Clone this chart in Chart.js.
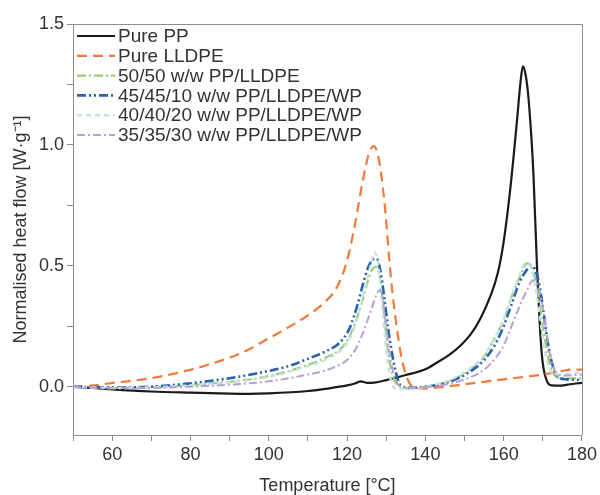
<!DOCTYPE html>
<html>
<head>
<meta charset="utf-8">
<script src="https://cdn.jsdelivr.net/npm/chart.js@4/dist/chart.umd.min.js"></script>
<style>
  body { margin: 0; background: #fff; }
  canvas { display: block; }
</style>
</head>
<body>
<canvas id="dsc" width="600" height="495"></canvas>
<script>
// values
const seriesLabels = [
  'Pure PP',
  'Pure LLDPE',
  '50/50 w/w PP/LLDPE',
  '45/45/10 w/w PP/LLDPE/WP',
  '40/40/20 w/w PP/LLDPE/WP',
  '35/35/30 w/w PP/LLDPE/WP',
]

const ppTemp = [50, 55, 60, 70, 80, 90, 95, 100, 110, 115, 120, 122, 123.5, 125, 127, 130, 135, 140, 143, 146, 149, 151.5, 154, 156.5, 158.5, 160, 161.7, 163.4, 164.3, 164.9, 165.6, 166.3, 167.6, 168.5, 169.7, 171, 172.3, 174, 177, 180]
const ppFlow = [0, -0.005, -0.011, -0.02, -0.025, -0.029, -0.03, -0.028, -0.018, -0.008, 0.005, 0.013, 0.022, 0.016, 0.017, 0.027, 0.048, 0.072, 0.1, 0.13, 0.17, 0.215, 0.28, 0.37, 0.47, 0.6, 0.82, 1.1, 1.26, 1.325, 1.29, 1.2, 0.88, 0.5, 0.14, 0.025, 0.005, 0.004, 0.01, 0.016]

const pe100Temp = [50, 55, 60, 70, 80, 90, 95, 100, 105, 110, 114, 117, 119, 120.6, 122, 124, 125.5, 126.8, 128, 129.5, 131.2, 132.9, 134.2, 135.9, 137.6, 140, 145, 150, 160, 165, 170, 175, 177, 180]
const pe100Flow = [0, 0.005, 0.015, 0.035, 0.07, 0.12, 0.155, 0.2, 0.245, 0.295, 0.345, 0.4, 0.47, 0.56, 0.67, 0.85, 0.96, 0.995, 0.95, 0.77, 0.45, 0.22, 0.098, 0.016, -0.005, -0.007, 0, 0.01, 0.03, 0.04, 0.05, 0.065, 0.07, 0.07]

const blend50Temp = [50, 60, 70, 80, 90, 100, 110, 115, 118, 120, 122, 124, 126, 127.3, 128.5, 129.5, 130.5, 131.5, 132.5, 134, 137, 140, 145, 150, 155, 158, 160, 162, 164, 166, 167, 168, 169, 170, 171, 172, 173, 175, 180]
const blend50Flow = [0, -0.007, -0.004, 0.007, 0.02, 0.044, 0.09, 0.124, 0.15, 0.19, 0.26, 0.36, 0.47, 0.495, 0.44, 0.29, 0.14, 0.055, 0.014, -0.003, -0.007, 0, 0.017, 0.055, 0.124, 0.21, 0.275, 0.37, 0.45, 0.51, 0.5, 0.45, 0.36, 0.25, 0.15, 0.083, 0.048, 0.034, 0.034]

const wp10Temp = [50, 60, 70, 80, 90, 100, 105, 110, 115, 118, 120.6, 122.7, 124, 125.3, 126.5, 127.5, 128.5, 129.5, 130.5, 131.2, 132.5, 133.7, 136, 140, 145, 150, 155, 158, 160, 162, 164, 166, 167, 168, 169, 170, 171, 172, 173, 174, 176, 180]
const wp10Flow = [0, -0.003, 0, 0.014, 0.035, 0.065, 0.085, 0.115, 0.15, 0.18, 0.24, 0.34, 0.42, 0.49, 0.525, 0.53, 0.48, 0.37, 0.24, 0.165, 0.057, 0.005, -0.005, 0, 0.014, 0.048, 0.11, 0.18, 0.25, 0.34, 0.43, 0.485, 0.5, 0.485, 0.43, 0.33, 0.21, 0.12, 0.065, 0.04, 0.03, 0.028]

const wp20Temp = [50, 60, 80, 100, 110, 115, 120, 122, 124, 126, 127, 128, 129, 130, 131, 132, 133, 135, 138, 140, 145, 150, 155, 158, 160, 162, 164, 165.5, 167, 168, 169, 170, 171, 172, 174, 177, 180]
const wp20Flow = [0, -0.005, 0.005, 0.04, 0.085, 0.115, 0.18, 0.25, 0.37, 0.5, 0.555, 0.5, 0.33, 0.15, 0.04, -0.005, -0.01, -0.01, -0.008, 0, 0.02, 0.06, 0.13, 0.21, 0.28, 0.37, 0.46, 0.51, 0.49, 0.42, 0.32, 0.2, 0.11, 0.065, 0.05, 0.055, 0.06]

const wp30Temp = [50, 60, 70, 80, 90, 100, 110, 115, 118, 120, 122, 124, 126, 127.5, 128.3, 129, 130, 131, 132, 133, 134, 136, 140, 145, 150, 155, 158, 160, 162, 164, 166, 167.5, 168.5, 169.5, 170.5, 171.5, 172.5, 173.5, 175, 180]
const wp30Flow = [0, -0.005, -0.005, 0, 0.008, 0.022, 0.05, 0.07, 0.09, 0.11, 0.15, 0.22, 0.31, 0.38, 0.4, 0.37, 0.25, 0.12, 0.05, 0.01, 0, -0.005, -0.002, 0.008, 0.03, 0.07, 0.12, 0.17, 0.25, 0.33, 0.4, 0.44, 0.43, 0.37, 0.27, 0.16, 0.09, 0.055, 0.045, 0.05]

const xTicks = [50, 60, 70, 80, 90, 100, 110, 120, 130, 140, 150, 160, 170, 180]
const yTicks = [0, 0.25, 0.5, 0.75, 1.0, 1.25, 1.5]

const toPoints = (temps, flows) => temps.map((t, i) => ({ x: t, y: flows[i] }))

const styles = [
  { color: '#1a1a1a', dash: [], width: 2.2 },
  { color: '#ef7a3c', dash: [10, 6], width: 2.2 },
  { color: '#9dcb72', dash: [9, 3, 2, 3], width: 2.2 },
  { color: '#2b62ae', dash: [9, 3, 2, 3, 2, 3], width: 2.6 },
  { color: '#c4e3e6', dash: [5, 4], width: 2.4 },
  { color: '#b99fd2', dash: [8, 3, 2, 3], width: 2.0 },
]

const seriesPoints = [
  toPoints(ppTemp, ppFlow),
  toPoints(pe100Temp, pe100Flow),
  toPoints(blend50Temp, blend50Flow),
  toPoints(wp10Temp, wp10Flow),
  toPoints(wp20Temp, wp20Flow),
  toPoints(wp30Temp, wp30Flow),
]

// draw order: light curves first, black PP on top
const drawOrder = [5, 4, 3, 2, 1, 0]

const datasets = seriesLabels.map((label, i) => ({
  label: label,
  data: seriesPoints[i],
  borderColor: styles[i].color,
  borderDash: styles[i].dash,
  borderWidth: styles[i].width,
  pointRadius: 0,
  fill: false,
  cubicInterpolationMode: 'monotone',
  order: drawOrder[i],
}))

const font = "'Liberation Sans', Arial, sans-serif"

// top and right side of the frame
const framePlugin = {
  id: 'frame',
  afterDraw(chart) {
    const { ctx, chartArea } = chart
    ctx.save()
    ctx.strokeStyle = '#8c8c8c'
    ctx.lineWidth = 1
    ctx.beginPath()
    ctx.moveTo(chartArea.left, chartArea.top + 0.5)
    ctx.lineTo(chartArea.right + 0.5, chartArea.top + 0.5)
    ctx.lineTo(chartArea.right + 0.5, chartArea.bottom)
    ctx.stroke()
    ctx.restore()
  },
}

// legend sits inside the plot, top left
const insideLegend = {
  id: 'insideLegend',
  afterDraw(chart) {
    const ctx = chart.ctx
    const x0 = chart.chartArea.left + 4
    const y0 = chart.chartArea.top + 12
    ctx.save()
    ctx.font = '19px ' + font
    ctx.textBaseline = 'middle'
    chart.data.datasets.forEach((ds, i) => {
      const y = y0 + i * 19.8
      ctx.strokeStyle = ds.borderColor
      ctx.lineWidth = ds.borderWidth
      ctx.setLineDash(ds.borderDash)
      ctx.beginPath()
      ctx.moveTo(x0, y)
      ctx.lineTo(x0 + 38, y)
      ctx.stroke()
      ctx.setLineDash([])
      ctx.fillStyle = '#333'
      ctx.fillText(ds.label, x0 + 41, y + 1)
    })
    ctx.restore()
  },
}

new Chart(document.getElementById('dsc'), {
  type: 'line',
  data: { datasets: datasets },
  options: {
    responsive: false,
    animation: false,
    devicePixelRatio: 1,
    layout: { padding: { left: 0, right: 14, top: 24, bottom: 0 } },
    plugins: {
      legend: { display: false },
      tooltip: { enabled: false },
    },
    scales: {
      x: {
        type: 'linear',
        min: 50,
        max: 180,
        afterBuildTicks: (scale) => {
          scale.ticks = xTicks.map((v) => ({ value: v }))
        },
        afterFit: (scale) => {
          scale.height = 60
        },
        ticks: {
          autoSkip: false,
          maxRotation: 0,
          color: '#333',
          padding: 3,
          font: { family: font, size: 18 },
          callback: (v) => (v % 20 === 0 ? String(v) : ''),
        },
        grid: { display: true, drawOnChartArea: false, tickLength: 6, color: '#8c8c8c' },
        border: { display: true, color: '#8c8c8c' },
        title: {
          display: true,
          text: 'Temperature [°C]',
          color: '#333',
          font: { family: font, size: 18, lineHeight: 1 },
          padding: { top: 0, bottom: 0 },
        },
      },
      y: {
        type: 'linear',
        min: -0.2,
        max: 1.5,
        afterBuildTicks: (scale) => {
          scale.ticks = yTicks.map((v) => ({ value: v }))
        },
        afterFit: (scale) => {
          scale.width = 73
        },
        ticks: {
          autoSkip: false,
          color: '#333',
          padding: 3,
          font: { family: font, size: 18 },
          callback: (v) => (v % 0.5 === 0 ? v.toFixed(1) : ''),
        },
        grid: { display: true, drawOnChartArea: false, tickLength: 6, color: '#8c8c8c' },
        border: { display: true, color: '#8c8c8c' },
        title: {
          display: true,
          text: 'Normalised heat flow [W·g⁻¹]',
          color: '#333',
          font: { family: font, size: 18, lineHeight: 1 },
          padding: { top: 12, bottom: 0 },
        },
      },
    },
  },
  plugins: [framePlugin, insideLegend],
})
</script>
</body>
</html>
